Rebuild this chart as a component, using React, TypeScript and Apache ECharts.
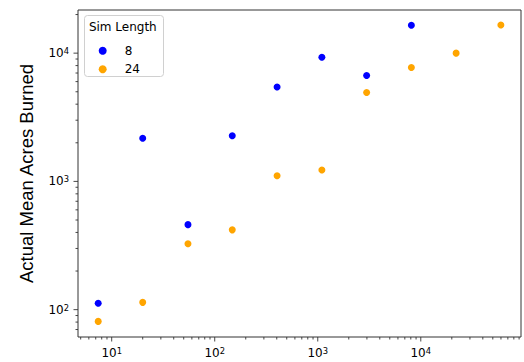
import React, { useEffect, useRef } from "react";
import * as echarts from "echarts";

// Simulation (x) values shared by both sim lengths
const xValues8 = [7.4, 20, 55, 148, 403, 1097, 2981, 8103];
const yValues8 = [112, 2170, 460, 2270, 5450, 9280, 6700, 16500];
const xValues24 = [7.4, 20, 55, 148, 403, 1097, 2981, 8103, 22026, 59874];
const yValues24 = [81, 114, 326, 419, 1108, 1226, 4940, 7730, 10000, 16600];
const seriesNames = ["8", "24"];
const seriesColors = ["#0000ff", "#ffa500"];
const legendTitle = "Sim Length";
const yAxisTitle = "Actual Mean Acres Burned";

const X_MIN = 4.71;
const X_MAX = 93900;
const Y_MIN = 61.2;
const Y_MAX = 21700;

const majorMultipliers = [1];
const minorMultipliers = [2, 3, 4, 5, 6, 7, 8, 9];
const decades = [1, 10, 100, 1000, 10000, 100000];

function tickValues(min: number, max: number) {
  const out: number[][] = [];
  for (const d of decades) {
    for (const m of majorMultipliers) {
      const v = d * m;
      if (v >= min && v <= max) out.push([v, 1]);
    }
    for (const m of minorMultipliers) {
      const v = d * m;
      if (v >= min && v <= max) out.push([v, 0]);
    }
  }
  return out;
}

function powerLabel(v: number) {
  const e = Math.round(Math.log10(v));
  const p = Math.pow(10, e);
  if (Math.abs(v - p) / p > 1e-6) return "";
  return `{a|10}{b|${e}}`;
}

const labelRich = {
  a: { fontSize: 12, lineHeight: 12, fontFamily: "DejaVu Sans", color: "#000", verticalAlign: "bottom" },
  b: { fontSize: 8.4, lineHeight: 8.4, fontFamily: "DejaVu Sans", color: "#000", verticalAlign: "top", padding: [0, 0, 7, 0] },
};

export default function App() {
  const ref = useRef<HTMLDivElement>(null);
  useEffect(() => {
    if (!ref.current) return;
    const chart = echarts.init(ref.current, undefined, { renderer: "svg" });
    const xt = tickValues(X_MIN, X_MAX).map((t) => [t[0], Y_MIN, t[1]]);
    const yt = tickValues(Y_MIN, Y_MAX).map((t) => [X_MIN, t[0], t[1]]);
    const tickColor = "#333";
    chart.setOption({
      animation: false,
      backgroundColor: "#fff",
      grid: {
        left: 78,
        right: 3,
        top: 10,
        bottom: 23,
        show: true,
        borderColor: "#333",
        borderWidth: 1,
        backgroundColor: "transparent",
      },
      xAxis: {
        type: "log",
        logBase: 10,
        min: X_MIN,
        max: X_MAX,
        axisLine: { show: false },
        axisTick: { show: false },
        splitLine: { show: false },
        minorTick: { show: false },
        axisLabel: {
          margin: 10,
          formatter: (v: number) => powerLabel(v),
          rich: labelRich,
          showMinLabel: false,
          showMaxLabel: false,
        },
      },
      yAxis: {
        type: "log",
        logBase: 10,
        min: Y_MIN,
        max: Y_MAX,
        name: yAxisTitle,
        nameLocation: "middle",
        nameGap: 42,
        nameTextStyle: { fontSize: 18.5, fontFamily: "Liberation Sans", color: "#000" },
        axisLine: { show: false },
        axisTick: { show: false },
        splitLine: { show: false },
        minorTick: { show: false },
        axisLabel: {
          margin: 9,
          formatter: (v: number) => powerLabel(v),
          rich: labelRich,
          showMinLabel: false,
          showMaxLabel: false,
        },
      },
      legend: {
        data: seriesNames,
        orient: "vertical",
        left: 93.7,
        top: 38.7,
        itemWidth: 34,
        itemHeight: 8,
        itemGap: 4.6,
        icon: "circle",
        textStyle: { fontSize: 12, lineHeight: 14, fontFamily: "DejaVu Sans", color: "#000" },
        z: 10,
      },
      graphic: [
        {
          type: "rect",
          left: 84,
          top: 15,
          z: 5,
          shape: { width: 79, height: 61, r: 3 },
          style: { fill: "rgba(255,255,255,0.8)", stroke: "#d0d0d0", lineWidth: 1 },
        },
        {
          type: "text",
          x: 122.8,
          y: 26.7,
          z: 6,
          style: {
            text: legendTitle,
            fontSize: 12,
            fontFamily: "DejaVu Sans",
            fill: "#000",
            align: "center",
            verticalAlign: "middle",
          },
        },
      ],
      series: [
        {
          name: seriesNames[0],
          type: "scatter",
          symbolSize: 7,
          itemStyle: { color: seriesColors[0], opacity: 1 },
          data: xValues8.map((x, i) => [x, yValues8[i]]),
        },
        {
          name: seriesNames[1],
          type: "scatter",
          symbolSize: 7,
          itemStyle: { color: seriesColors[1], opacity: 1 },
          data: xValues24.map((x, i) => [x, yValues24[i]]),
        },
        {
          type: "custom",
          name: "xticks",
          silent: true,
          clip: false,
          data: xt,
          encode: { x: 0, y: 1 },
          renderItem: (params: any, api: any) => {
            const p = api.coord([api.value(0), api.value(1)]);
            const len = api.value(2) ? 4.5 : 2.5;
            return {
              type: "line",
              shape: { x1: p[0], y1: p[1], x2: p[0], y2: p[1] + len },
              style: { stroke: tickColor, lineWidth: 0.9 },
            };
          },
        },
        {
          type: "custom",
          name: "yticks",
          silent: true,
          clip: false,
          data: yt,
          encode: { x: 0, y: 1 },
          renderItem: (params: any, api: any) => {
            const p = api.coord([api.value(0), api.value(1)]);
            const len = api.value(2) ? 4.5 : 2.5;
            return {
              type: "line",
              shape: { x1: p[0], y1: p[1], x2: p[0] - len, y2: p[1] },
              style: { stroke: tickColor, lineWidth: 0.9 },
            };
          },
        },
      ],
    });
    return () => chart.dispose();
  }, []);
  return (
    <div
      ref={ref}
      style={{ position: "fixed", left: 0, top: 0, width: 524, height: 362 }}
    />
  );
}
